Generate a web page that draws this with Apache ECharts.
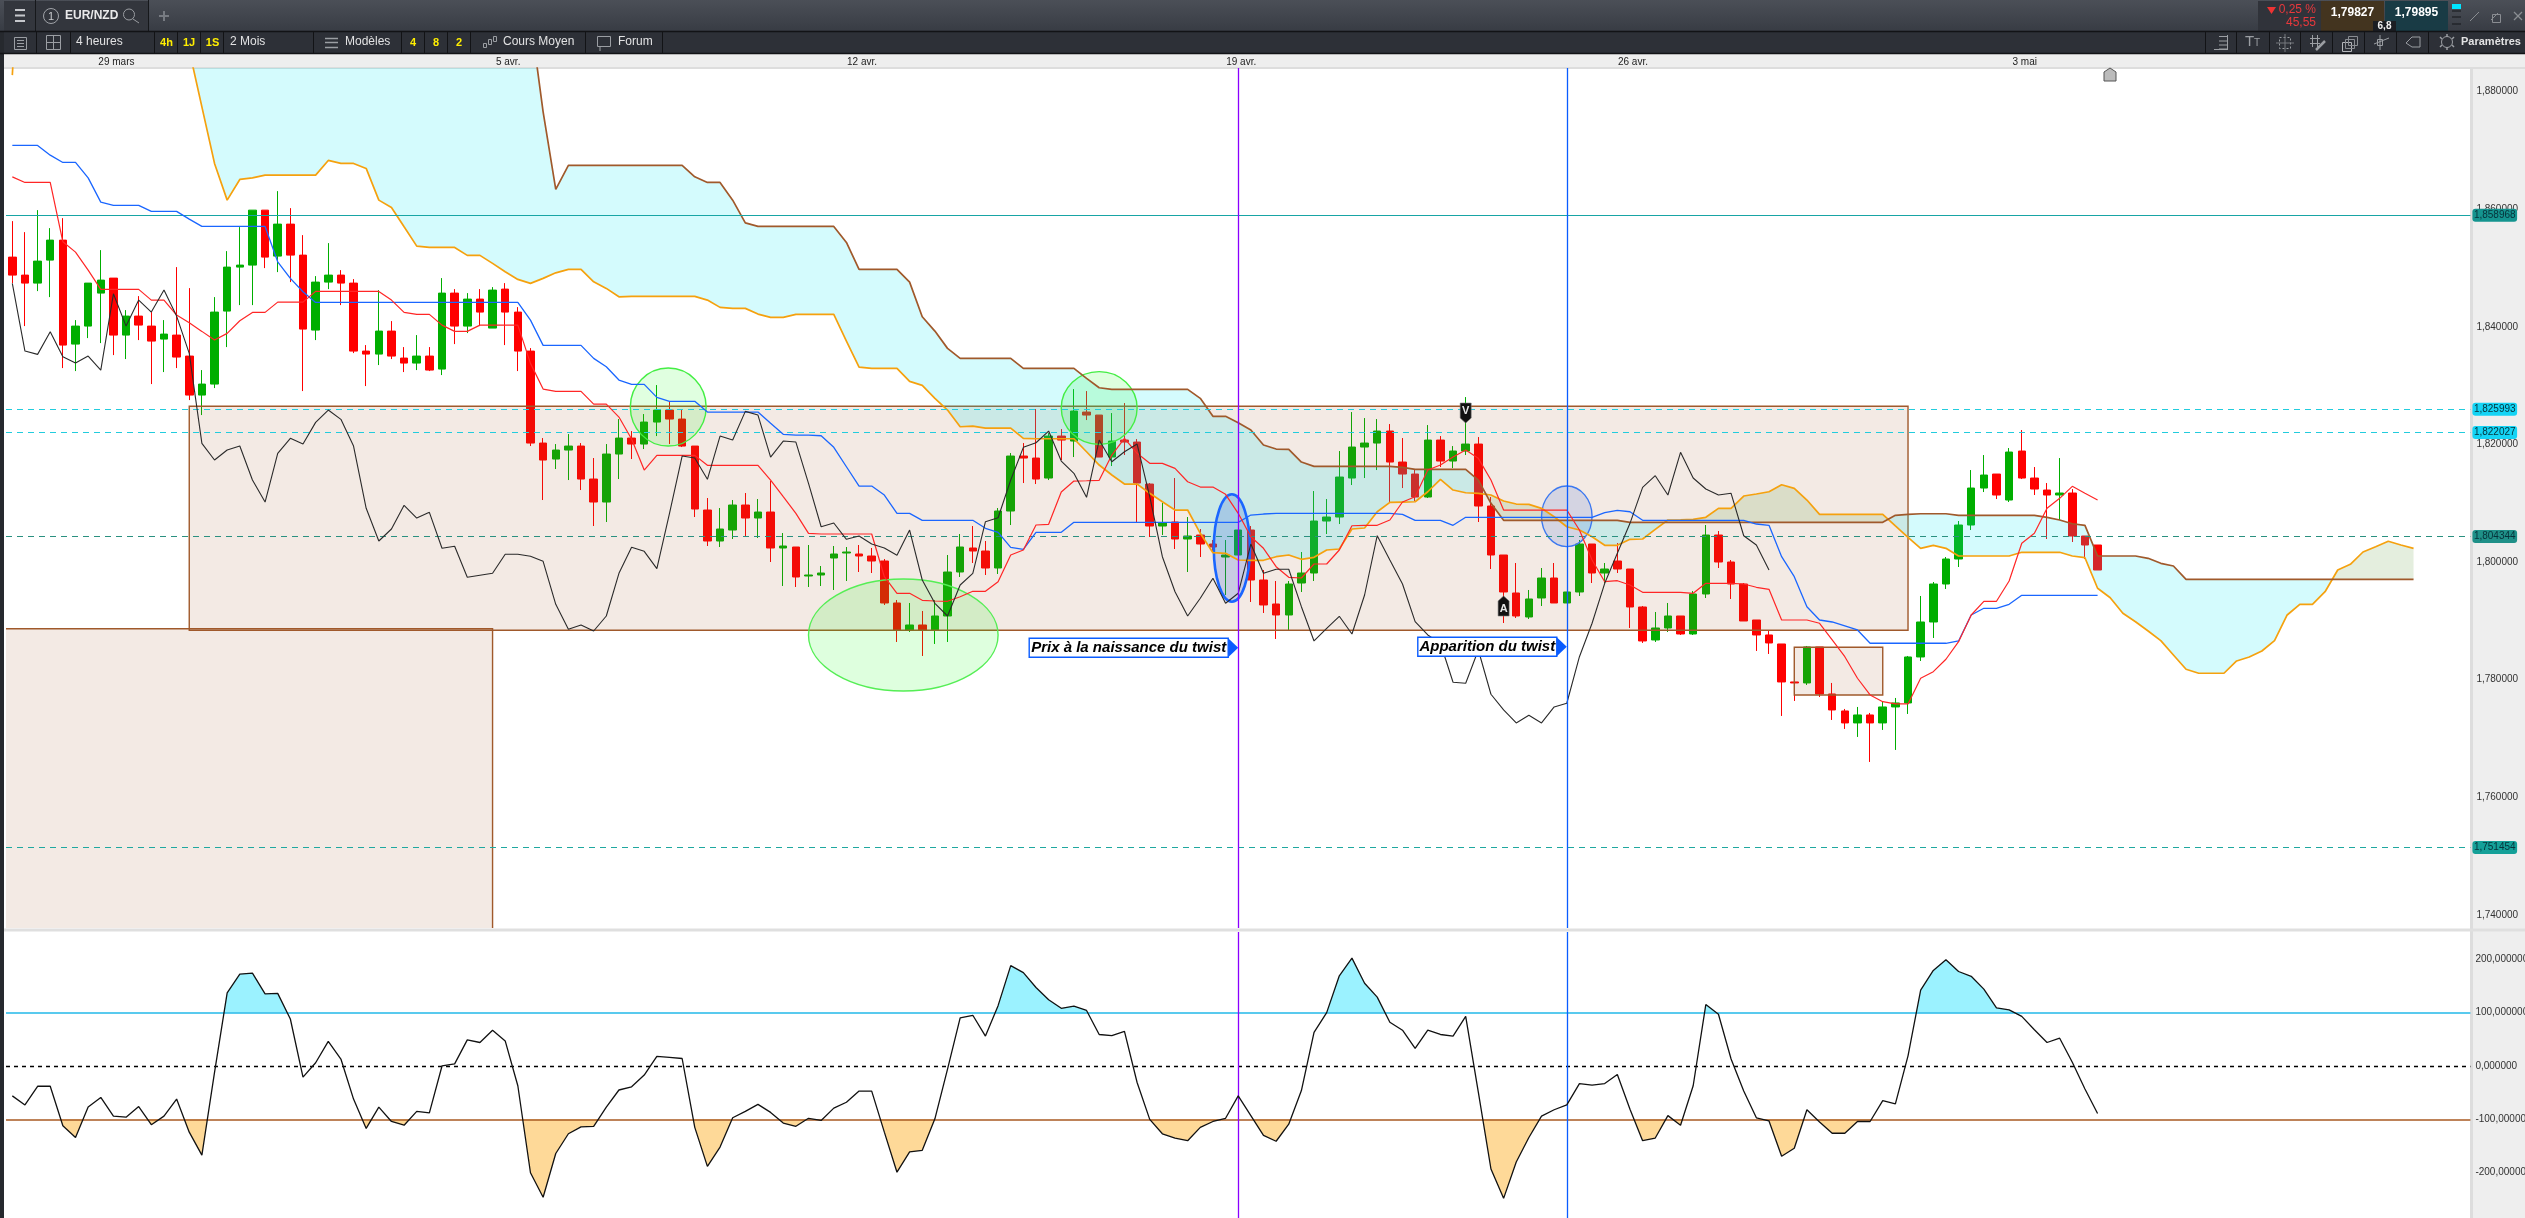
<!DOCTYPE html>
<html><head><meta charset="utf-8">
<style>html,body{margin:0;padding:0;background:#fff}#c{width:2525px;height:1218px}</style>
<script src="https://cdn.jsdelivr.net/npm/echarts@6/dist/echarts.min.js"></script>
</head><body><div id="c"></div>
<script>
const barCount = 195;
const dateTickIndex = [8, 39, 67, 97, 128, 159];
const dateTickLabel = ['29 mars', '5 avr.', '12 avr.', '19 avr.', '26 avr.', '3 mai'];
const priceTicks = [1.74, 1.76, 1.78, 1.80, 1.82, 1.84, 1.86, 1.88];
const cciTicks = [-200, -100, 0, 100, 200];
const priceLevels = [1.858968, 1.825993, 1.822027, 1.804344, 1.751454];
const cciLevels = [100, 0, -100];
const twistIndex = [97, 123];

// [open, close, low, high]
const candles = [
[1.85185,1.84879,1.84743,1.85797],[1.84879,1.84743,1.84012,1.8561],[1.84743,1.85117,1.84607,1.85984],[1.85134,1.85474,1.84505,1.85678],[1.85474,1.83689,1.83298,1.85848],
[1.83706,1.84012,1.83247,1.84114],[1.84012,1.84743,1.83808,1.84743],[1.84573,1.84794,1.83723,1.85304],[1.84828,1.83859,1.83519,1.84828],[1.83859,1.84182,1.83451,1.84284],
[1.84182,1.84029,1.83774,1.84522],[1.84012,1.83757,1.83026,1.8425],[1.83791,1.83876,1.8323,1.84114],[1.83859,1.83485,1.83298,1.85015],[1.83502,1.82839,1.82754,1.84658],
[1.82839,1.83026,1.82499,1.83264],[1.83026,1.8425,1.82958,1.84505],[1.84267,1.85015,1.83655,1.85287],[1.85015,1.85049,1.84369,1.85695],[1.85049,1.85984,1.84369,1.85984],
[1.85984,1.85185,1.84998,1.85984],[1.85202,1.85746,1.8493,1.86307],[1.85746,1.85219,1.8476,1.86018],[1.85219,1.83961,1.82907,1.85559],[1.83944,1.8476,1.83774,1.84862],
[1.8476,1.84879,1.84641,1.85423],[1.84879,1.84743,1.84369,1.84964],[1.84743,1.83587,1.83553,1.84811],[1.83587,1.83536,1.82992,1.83689],[1.83536,1.83927,1.83349,1.84624],
[1.83927,1.83502,1.83451,1.84097],[1.83468,1.83383,1.8323,1.83655],[1.83383,1.83502,1.83264,1.83859],[1.83502,1.83264,1.83247,1.83655],[1.83281,1.84573,1.83179,1.84828],
[1.84573,1.84012,1.83706,1.84641],[1.84012,1.84471,1.83893,1.84573],[1.84471,1.8425,1.84012,1.84641],[1.83978,1.84624,1.83978,1.84675],[1.84641,1.8425,1.83689,1.84743],
[1.8425,1.83587,1.83247,1.84335],[1.83587,1.82023,1.81972,1.83638],[1.82023,1.81734,1.81054,1.82108],[1.81751,1.81904,1.81581,1.82006],[1.81904,1.81972,1.81394,1.82176],
[1.81972,1.81411,1.81224,1.82023],[1.81411,1.8102,1.80612,1.81768],[1.8102,1.81836,1.8068,1.82006],[1.81836,1.82108,1.81411,1.82431],[1.82108,1.82006,1.81751,1.82227],
[1.82006,1.8238,1.81921,1.82516],[1.8238,1.82584,1.82142,1.83009],[1.82584,1.82431,1.82006,1.8272],[1.82431,1.81972,1.81955,1.82601],[1.81972,1.80901,1.80765,1.81972],
[1.80884,1.80357,1.80272,1.81088],[1.80357,1.80561,1.80255,1.80918],[1.80544,1.80969,1.80391,1.81054],[1.80969,1.80748,1.80442,1.81173],[1.80748,1.8085,1.80408,1.81071],
[1.8085,1.80238,1.8,1.81377],[1.80238,1.80272,1.79592,1.80493],[1.80255,1.79745,1.79575,1.80255],[1.79762,1.79779,1.79575,1.80289],[1.79779,1.79813,1.79592,1.79932],
[1.80068,1.80136,1.79524,1.80272],[1.80153,1.8017,1.79677,1.80255],[1.80136,1.80102,1.7983,1.80289],[1.80102,1.80017,1.79813,1.80238],[1.80017,1.79303,1.79269,1.80051],
[1.79303,1.78844,1.7864,1.79354],[1.78844,1.78929,1.7881,1.79303],[1.78929,1.78844,1.78402,1.79167],[1.78844,1.79082,1.78606,1.79354],[1.79082,1.7983,1.7864,1.80119],
[1.7983,1.80255,1.79745,1.80476],[1.80238,1.80187,1.79983,1.80612],[1.80187,1.79898,1.79779,1.80357],[1.79898,1.80867,1.79796,1.80918],[1.80867,1.81802,1.80629,1.81853],
[1.81802,1.81768,1.81343,1.82023],[1.81768,1.81411,1.81326,1.82601],[1.81428,1.82142,1.81394,1.82193],[1.82142,1.82074,1.81734,1.82261],[1.82057,1.82567,1.81785,1.82941],
[1.8255,1.82499,1.82414,1.82907],[1.82499,1.81785,1.81785,1.82499],[1.81785,1.82057,1.81632,1.82533],[1.82074,1.8204,1.81819,1.82703],[1.8204,1.81343,1.8068,1.82091],
[1.81326,1.80612,1.80425,1.81343],[1.80612,1.80663,1.80459,1.81003],[1.8068,1.80391,1.80221,1.81428],[1.80391,1.80442,1.7983,1.80765],[1.80459,1.80306,1.80085,1.80561],
[1.80306,1.80255,1.80153,1.80374],[1.80085,1.80119,1.79439,1.80374],[1.80119,1.80544,1.80119,1.80544],[1.80544,1.79694,1.7932,1.80612],[1.79694,1.79269,1.79133,1.79864],
[1.79286,1.79099,1.78691,1.79677],[1.79099,1.79626,1.78844,1.79677],[1.79643,1.79813,1.7949,1.8017],[1.79813,1.80697,1.79677,1.81207],[1.80697,1.80765,1.80476,1.81071],
[1.80765,1.81445,1.80646,1.81887],[1.81428,1.81955,1.81309,1.8255],[1.81955,1.82023,1.81428,1.82448],[1.82023,1.82227,1.81564,1.82431],[1.82227,1.817,1.81003,1.82346],
[1.817,1.81496,1.81258,1.82108],[1.81496,1.81105,1.81037,1.81581],[1.81105,1.82074,1.81088,1.82329],[1.82074,1.81717,1.81615,1.82142],[1.81717,1.81887,1.81598,1.81972],
[1.81887,1.82006,1.81819,1.82805],[1.82006,1.80952,1.8068,1.82125],[1.80952,1.80119,1.79881,1.81105],[1.80119,1.7949,1.78963,1.80119],[1.79473,1.79082,1.79048,1.79983],
[1.79065,1.79371,1.79031,1.79524],[1.79388,1.79728,1.79252,1.79898],[1.79728,1.79303,1.79303,1.79983],[1.79303,1.7949,1.79303,1.7949],[1.7949,1.80306,1.79422,1.80374],
[1.80306,1.79813,1.79643,1.80306],[1.79813,1.79881,1.79643,1.79983],[1.80017,1.79881,1.79813,1.80323],[1.79881,1.79235,1.78878,1.79881],[1.79235,1.78657,1.78623,1.79252],
[1.78674,1.78878,1.7864,1.7915],[1.78878,1.79082,1.7881,1.79303],[1.79082,1.78776,1.78759,1.79082],[1.78776,1.79456,1.78759,1.79507],[1.79456,1.80459,1.79388,1.80629],
[1.80459,1.8,1.79898,1.80527],[1.8,1.79626,1.79371,1.80034],[1.79626,1.78997,1.78997,1.79643],[1.79014,1.78759,1.78487,1.79014],[1.78759,1.78623,1.78436,1.78827],
[1.78606,1.7796,1.77382,1.78606],[1.7796,1.77943,1.77637,1.7796],[1.77943,1.78555,1.77909,1.78572],[1.78555,1.77756,1.77705,1.78555],[1.77756,1.77484,1.77314,1.77943],
[1.77467,1.77263,1.77161,1.77501],[1.77263,1.77399,1.77025,1.77535],[1.77399,1.77263,1.766,1.77433],[1.77263,1.77535,1.77144,1.7762],[1.77535,1.77603,1.76804,1.77688],
[1.77603,1.78385,1.77416,1.78402],[1.78385,1.7898,1.78317,1.79422],[1.7898,1.79626,1.78708,1.7966],[1.79626,1.80051,1.79541,1.80085],[1.80051,1.80629,1.79915,1.80697],
[1.80629,1.81258,1.80544,1.81564],[1.81258,1.81479,1.8119,1.81819],[1.81496,1.81139,1.81071,1.81496],[1.81054,1.8187,1.8102,1.81938],[1.81887,1.81428,1.81411,1.82244],
[1.81428,1.81241,1.81139,1.81615],[1.81224,1.81139,1.80391,1.81343],[1.81139,1.81173,1.80714,1.81768],[1.81173,1.80442,1.8034,1.81241],[1.80442,1.80289,1.80051,1.80442],
[1.80289,1.79864,1.79864,1.80289]];

const tenkan = [
1.8655,1.86455,1.86455,1.86455,1.85445,1.8527,1.84964,1.84636,1.84636,1.84636,
1.84636,1.84454,1.84454,1.84199,1.84068,1.83922,1.83774,1.83888,1.84102,1.84245,
1.84245,1.8442,1.8442,1.8442,1.84602,1.84602,1.84602,1.84602,1.84602,1.84602,
1.84454,1.84245,1.84211,1.84211,1.84029,1.83922,1.83922,1.84029,1.84029,1.84029,
1.84029,1.83378,1.82941,1.82902,1.82902,1.82902,1.82686,1.82686,1.82465,1.82091,
1.81564,1.81813,1.81813,1.81813,1.81813,1.81644,1.81644,1.81644,1.81644,1.81644,
1.81394,1.8111,1.80828,1.80488,1.80476,1.80476,1.80476,1.80476,1.80476,1.7975,
1.79468,1.79468,1.79349,1.79337,1.79332,1.7941,1.79502,1.79502,1.79665,1.80119,
1.80204,1.80629,1.80641,1.8119,1.81377,1.81382,1.81389,1.81819,1.82103,1.81848,
1.81678,1.81678,1.81593,1.81365,1.81275,1.81275,1.81151,1.80828,1.8043,1.80233,
1.7992,1.7974,1.79728,1.79966,1.79966,1.80204,1.80617,1.80624,1.80624,1.80714,
1.8102,1.8111,1.81564,1.81649,1.81785,1.81904,1.81763,1.81394,1.80884,1.80884,
1.80884,1.80884,1.80884,1.80884,1.80544,1.80034,1.79665,1.79682,1.79609,1.79485,
1.79485,1.79485,1.79485,1.79468,1.79638,1.79638,1.79638,1.79626,1.7957,1.79536,
1.79014,1.79014,1.79014,1.78958,1.78674,1.7839,1.78023,1.77739,1.77625,1.77586,
1.77586,1.78023,1.78135,1.78346,1.78645,1.79099,1.79332,1.79332,1.79677,1.80318,
1.80488,1.80913,1.81083,1.81287,1.81168,1.81054];

const kijun = [
1.87084,1.87084,1.87084,1.86919,1.86795,1.86795,1.86533,1.8612,1.86064,1.86064,
1.86064,1.85962,1.85962,1.85962,1.85831,1.85707,1.85707,1.85707,1.85707,1.85707,
1.85707,1.85105,1.84823,1.84595,1.84415,1.84415,1.84415,1.84415,1.84415,1.84415,
1.84415,1.84415,1.84415,1.84415,1.84415,1.84415,1.84415,1.84415,1.84415,1.84415,
1.84415,1.84114,1.83684,1.83684,1.83684,1.83684,1.83463,1.8332,1.83094,1.83021,
1.83021,1.828,1.82732,1.82732,1.82732,1.8255,1.8255,1.8255,1.8255,1.8255,
1.82358,1.82171,1.82159,1.82159,1.82147,1.8195,1.8162,1.81292,1.81292,1.81139,
1.80828,1.80828,1.80709,1.80709,1.80709,1.80709,1.80709,1.80573,1.80505,1.8025,
1.80216,1.80505,1.80505,1.80505,1.80675,1.80675,1.80675,1.80675,1.80675,1.80675,
1.80675,1.80675,1.80675,1.80675,1.80675,1.80675,1.80675,1.80675,1.80799,1.80816,
1.80828,1.80828,1.80828,1.80828,1.80828,1.80828,1.80828,1.80828,1.80828,1.80828,
1.80811,1.80709,1.80709,1.80709,1.80624,1.8076,1.8076,1.8076,1.8076,1.8076,
1.8076,1.8076,1.8076,1.8076,1.8076,1.8076,1.80838,1.80879,1.80855,1.80709,
1.80709,1.80709,1.80709,1.80709,1.80709,1.80709,1.80709,1.80709,1.80646,1.80624,
1.8009,1.7975,1.7924,1.79014,1.7898,1.78912,1.78844,1.78618,1.78618,1.78618,
1.78618,1.78618,1.78618,1.78618,1.78657,1.79099,1.79213,1.79213,1.79281,1.79434,
1.79434,1.79434,1.79434,1.79434,1.79434,1.79434];

const chikou = [
1.84738,1.83587,1.83531,1.83915,1.8349,1.83383,1.83502,1.83264,1.84561,1.84012,
1.84454,1.8425,1.84624,1.84182,1.83548,1.82018,1.81734,1.81904,1.81972,1.81394,
1.8102,1.81848,1.82103,1.82006,1.82375,1.82584,1.82426,1.81972,1.80913,1.80357,
1.80561,1.80964,1.80748,1.80845,1.80233,1.80267,1.7974,1.79774,1.79808,1.80131,
1.80131,1.80097,1.80012,1.79281,1.78856,1.78929,1.78827,1.79082,1.79808,1.8025,
1.80182,1.79887,1.80828,1.81802,1.81768,1.81406,1.82142,1.82074,1.82562,1.82499,
1.81785,1.82057,1.8204,1.81338,1.806,1.80663,1.80386,1.80442,1.80306,1.80238,
1.80114,1.80544,1.79694,1.79298,1.79082,1.79609,1.79808,1.80685,1.80753,1.81394,
1.8195,1.82028,1.82227,1.81717,1.81508,1.811,1.82074,1.81705,1.81875,1.82006,
1.8111,1.8009,1.79495,1.79082,1.79383,1.79723,1.79298,1.79468,1.80306,1.79808,
1.79876,1.79876,1.7924,1.78657,1.78873,1.79077,1.78776,1.79439,1.80447,1.80034,
1.79626,1.78985,1.78759,1.78618,1.77955,1.77938,1.78504,1.77751,1.77484,1.77263,
1.77394,1.77263,1.77535,1.77598,1.7839,1.78958,1.79638,1.80148,1.80658,1.8127,
1.81468,1.81139,1.81865,1.81428,1.81241,1.81139,1.81168,1.80447,1.80289,1.79864];

const senkouA = [
1.8828,1.92,1.92,1.92,1.92,1.92,1.92,1.92,1.92,1.92,
1.92,1.92,1.92,1.90,1.88704,1.8774,1.86778,1.86154,1.86506,1.86533,
1.86579,1.86579,1.86579,1.86579,1.86579,1.86829,1.86778,1.86778,1.86693,1.86154,
1.8603,1.857,1.85372,1.8535,1.8535,1.8535,1.85214,1.85214,1.85078,1.84935,
1.84806,1.84738,1.84823,1.84918,1.84976,1.84976,1.84765,1.84653,1.8451,1.84517,
1.84517,1.84517,1.84517,1.84517,1.84517,1.84454,1.8433,1.84313,1.84313,1.84216,
1.8416,1.8416,1.84211,1.84211,1.84211,1.84211,1.83757,1.83315,1.83293,1.83293,
1.83293,1.83072,1.83004,1.82783,1.82584,1.823,1.82312,1.82278,1.82278,1.82278,
1.82103,1.82096,1.82096,1.82096,1.82096,1.81875,1.81649,1.81479,1.81326,1.81326,
1.81168,1.81025,1.80884,1.80884,1.80488,1.80158,1.80148,1.80034,1.80029,1.80029,
1.8009,1.80119,1.80046,1.8008,1.80204,1.80221,1.80561,1.80578,1.80855,1.81015,
1.8102,1.81025,1.81195,1.81406,1.81224,1.81178,1.81168,1.81139,1.81037,1.80986,
1.80981,1.80913,1.8077,1.806,1.80544,1.8043,1.80284,1.80284,1.80386,1.80391,
1.80556,1.80714,1.80719,1.80726,1.8076,1.80913,1.80913,1.81122,1.81156,1.81195,
1.81314,1.81253,1.81054,1.80811,1.80811,1.80811,1.80811,1.80811,1.80811,1.80615,
1.8042,1.80233,1.80284,1.80233,1.80102,1.80102,1.80102,1.80102,1.80102,1.80165,
1.80165,1.80165,1.80165,1.80102,1.80073,1.79553,1.79393,1.79128,1.78985,1.78827,
1.78662,1.78419,1.78176,1.78108,1.78108,1.78108,1.78317,1.78385,1.78487,1.78662,
1.79099,1.79281,1.79281,1.79495,1.79864,1.79961,1.8017,1.8026,1.80352,1.80289,
1.80233];

const senkouB = [
1.93,1.93,1.93,1.93,1.93,1.93,1.93,1.93,1.93,1.93,
1.93,1.93,1.93,1.93,1.93,1.93,1.93,1.93,1.93,1.93,
1.93,1.93,1.93,1.93,1.93,1.93,1.93,1.93,1.93,1.93,
1.93,1.93,1.93,1.93,1.93,1.93,1.93,1.93,1.93,1.93,
1.93,1.89265,1.87655,1.86336,1.86744,1.86744,1.86744,1.86744,1.86744,1.86744,
1.86744,1.86744,1.86744,1.86744,1.8655,1.86455,1.86455,1.86154,1.85768,1.85707,
1.85707,1.85707,1.85707,1.85707,1.85707,1.85707,1.85435,1.84976,1.84976,1.84976,
1.84976,1.8476,1.8417,1.83927,1.83633,1.83463,1.83463,1.83463,1.83463,1.83463,
1.83293,1.83293,1.83293,1.83293,1.83293,1.83123,1.82963,1.82936,1.82936,1.82936,
1.82936,1.82936,1.82936,1.82936,1.82783,1.82477,1.82477,1.82368,1.82244,1.81989,
1.81921,1.81916,1.817,1.81627,1.81627,1.81627,1.81627,1.81627,1.81627,1.81627,
1.8161,1.81576,1.81576,1.81576,1.81576,1.81576,1.81394,1.80998,1.80709,1.80709,
1.80709,1.80709,1.80709,1.80709,1.80709,1.80709,1.80709,1.80709,1.80675,1.80675,
1.80675,1.80675,1.80675,1.80675,1.80675,1.80675,1.80675,1.80675,1.80675,1.80675,
1.80675,1.80675,1.80675,1.80675,1.80675,1.80675,1.80675,1.80675,1.80675,1.80794,
1.80811,1.80821,1.80821,1.80821,1.80794,1.80794,1.80794,1.80794,1.80794,1.80794,
1.80794,1.8076,1.80714,1.80651,1.80624,1.80102,1.80102,1.80102,1.80102,1.80063,
1.79978,1.79932,1.79706,1.79706,1.79706,1.79706,1.79706,1.79706,1.79706,1.79706,
1.79706,1.79706,1.79706,1.79706,1.79706,1.79706,1.79706,1.79706,1.79706,1.79706,
1.79706];

const cci = [
-56,-73,-38,-38,-112,-134,-77,-59,-94,-96,
-76,-110,-94,-62,-124,-167,-12,137,172,174,
135,136,88,-21,6,46,13,-62,-117,-77,
-104,-111,-85,-88,0,4,49,44,67,47,
-37,-200,-246,-164,-127,-114,-113,-77,-45,-39,
-17,18,16,14,-115,-188,-152,-97,-85,-72,
-87,-107,-113,-98,-102,-79,-68,-47,-47,-124,
-199,-161,-158,-99,-6,90,95,56,113,188,
175,147,124,108,112,104,59,57,65,-31,
-100,-127,-135,-140,-115,-104,-98,-56,-93,-130,
-141,-109,-46,63,100,169,202,155,129,82,
67,33,67,59,56,93,-49,-193,-248,-180,
-134,-94,-82,-73,-33,-36,-33,-16,-81,-140,
-135,-93,-111,-37,115,97,13,-47,-97,-103,
-169,-154,-82,-105,-126,-126,-104,-104,-65,-71,
19,142,179,199,177,168,144,109,105,93,
68,44,52,7,-43,-89];

// Drawn zones: start bar (null = left edge), end bar, top price, bottom price (null = lower edge)
const zoneStart = [14, null, 141];
const zoneEnd = [150, 38, 148];
const zoneTop = [1.82648, 1.78866, 1.7855];
const zoneBottom = [1.78839, null, 1.77739];

// Drawn ellipses: centre bar, centre price, half width in bars, half height in price
const ringBar = [51.9, 70.5, 86, 96.5, 123];
const ringPrice = [1.82635, 1.78759, 1.82618, 1.80238, 1.80777];
const ringHalfBars = [3.0, 7.5, 3.0, 1.43, 2.0];
const ringHalfPrice = [0.00663, 0.00952, 0.0062, 0.00913, 0.00515];

const noteText = ['Prix à la naissance du twist', 'Apparition du twist'];
const noteBar = [97, 123];
const notePrice = [1.78541, 1.78558];
const notePixelWidth = [199, 139];

const signalText = ['V', 'A'];
const signalBar = [115, 118];
const signalPrice = [1.82703, 1.79082];

const UI = '"Liberation Sans", Arial, sans-serif';
const categories = [];
for (let i = 0; i < barCount; i++) categories.push(String(i));

/* ---------- page furniture drawn as graphic elements ---------- */
const gfx = [];
const R = (x, y, w, h, fill, extra) => gfx.push(Object.assign({type:'rect', silent:true, shape:{x,y,width:w,height:h}, style:{fill}}, extra||{}));
const B = (x, y, w, h, stroke) => gfx.push({type:'rect', silent:true, shape:{x,y,width:w,height:h}, style:{fill:'none', stroke, lineWidth:1}});
const L = (x1, y1, x2, y2, stroke, w) => gfx.push({type:'line', silent:true, shape:{x1,y1,x2,y2}, style:{stroke, lineWidth:w||1}});
const C = (cx, cy, r, stroke) => gfx.push({type:'circle', silent:true, shape:{cx,cy,r}, style:{fill:'none', stroke, lineWidth:1}});
const P = (points, fill, stroke) => gfx.push({type:'polygon', silent:true, shape:{points}, style:{fill, stroke:stroke||null, lineWidth:1}});
const T = (x, y, text, fill, font, align) => gfx.push({type:'text', silent:true, style:{x, y, text, fill, font, align:align||'left', verticalAlign:'middle'}});

// axis gutters and separators
R(2470, 54, 55, 1164, '#eeeeee');
R(2470, 68, 3, 1150, '#dddddd');
R(0, 928.5, 2525, 3, '#dfdfdf');
R(0, 54, 2525, 13, '#eeeeee');
R(0, 67, 2525, 2, '#dddddd');
R(0, 0, 4, 1218, '#26292e');

// first toolbar row
R(0, 0, 2525, 31, {type:'linear',x:0,y:0,x2:0,y2:1,colorStops:[{offset:0,color:'#4b4f57'},{offset:1,color:'#383c44'}]});
R(4, 1, 31, 30, '#33363d');
R(36, 1, 112, 30, '#33363d');
[35.5, 148.5].forEach(x => L(x, 0, x, 31, '#16181b'));
[10, 15.5, 21].forEach(y => L(15, y, 25, y, '#c6c8cc', 2));
C(51, 16, 7.5, '#a0a3a8');
T(51, 16.5, '1', '#c9cbce', '11px ' + UI, 'center');
T(65, 16, 'EUR/NZD', '#e9e9ea', 'bold 12px ' + UI);
C(129, 14.5, 5.5, '#9a9da2');
L(133, 19, 139, 23, '#9a9da2');
L(159, 16, 169, 16, '#777b82', 2);
L(164, 11, 164, 21, '#777b82', 2);
R(2258, 1, 63, 30, '#30333a');
P([[2267,7],[2276,7],[2271.5,14]], '#ee3333');
T(2316, 10, '0,25 %', '#e8383c', '12px ' + UI, 'right');
T(2316, 23, '45,55', '#e8383c', '12px ' + UI, 'right');
R(2321, 1, 63, 30, '#43341f');
R(2385, 1, 63, 30, '#193b45');
T(2352.5, 13, '1,79827', '#ffffff', 'bold 12px ' + UI, 'center');
T(2416.5, 13, '1,79895', '#ffffff', 'bold 12px ' + UI, 'center');
R(2373, 21, 23, 11, '#1b1e23');
T(2384.5, 26.5, '6,8', '#f0f0f0', 'bold 10px ' + UI, 'center');
R(2452, 4, 9, 5, '#00e5ff');
[11, 17, 24].forEach(y => L(2452, y, 2461, y, '#15171a'));
L(2470, 21, 2479, 12, '#8a8d92');
L(2491, 20, 2498, 13, '#8a8d92');
B(2492.5, 14.5, 8, 8, '#8a8d92');
L(2514, 12, 2522, 20, '#8a8d92', 1.2);
L(2522, 12, 2514, 20, '#8a8d92', 1.2);

// second toolbar row
R(4, 32, 2521, 21, '#2d3037');
L(0, 31.5, 2525, 31.5, '#121316', 1.5);
L(0, 53.5, 2525, 53.5, '#121316', 1.5);
[36, 70, 154, 177, 200, 223, 313, 401, 424, 447, 470, 585, 662, 2205, 2236, 2269, 2300, 2332, 2364, 2396, 2428].forEach(x => L(x + 0.5, 32, x + 0.5, 53, '#121316'));
B(14.5, 37.5, 12, 12, '#9b9ea3');
[40.5, 43.5, 46.5].forEach(y => L(17, y, 24, y, '#9b9ea3'));
B(46.5, 35.5, 14, 14, '#9b9ea3');
L(53.5, 35, 53.5, 50, '#9b9ea3');
L(46, 42.5, 61, 42.5, '#9b9ea3');
T(76, 42, '4 heures', '#e2e2e3', '12px ' + UI);
T(166.5, 43, '4h', '#ffee00', 'bold 11px ' + UI, 'center');
T(189, 43, '1J', '#ffee00', 'bold 11px ' + UI, 'center');
T(212.5, 43, '1S', '#ffee00', 'bold 11px ' + UI, 'center');
T(230, 42, '2 Mois', '#e2e2e3', '12px ' + UI);
[38.5, 42.5, 47.5].forEach(y => L(325, y, 338, y, '#9b9ea3', 1.5));
T(345, 42, 'Modèles', '#e2e2e3', '12px ' + UI);
T(413, 43, '4', '#ffee00', 'bold 11px ' + UI, 'center');
T(436, 43, '8', '#ffee00', 'bold 11px ' + UI, 'center');
T(459, 43, '2', '#ffee00', 'bold 11px ' + UI, 'center');
B(483.5, 43.5, 3, 4, '#9b9ea3');
B(488.5, 39.5, 3, 5, '#9b9ea3');
B(493.5, 36.5, 3, 5, '#9b9ea3');
T(503, 42, 'Cours Moyen', '#e2e2e3', '12px ' + UI);
B(597.5, 36.5, 13, 10, '#9b9ea3');
L(600, 47, 600, 51, '#9b9ea3');
T(618, 42, 'Forum', '#e2e2e3', '12px ' + UI);
[36.5, 41, 45, 49].forEach(y => L(2219, y, 2227, y, '#9b9ea3'));
L(2227.5, 35, 2227.5, 50, '#9b9ea3');
L(2214, 49.5, 2228, 49.5, '#9b9ea3');
T(2245, 42, 'T', '#9b9ea3', '15px ' + UI);
T(2254, 43, 'T', '#9b9ea3', '10px ' + UI);
gfx.push({type:'rect', silent:true, shape:{x:2279.5,y:37.5,width:11,height:11}, style:{fill:'none', stroke:'#9b9ea3', lineWidth:1, lineDash:[2,2]}});
L(2285, 34, 2285, 52, '#77797e');
L(2276, 43, 2294, 43, '#77797e');
[2312.5, 2317.5].forEach(x => L(x, 35, x, 47, '#9b9ea3'));
[38.5, 43.5].forEach(y => L(2310, y, 2320, y, '#9b9ea3'));
L(2316, 50, 2325, 41, '#9b9ea3', 2.5);
B(2342.5, 42.5, 9, 9, '#b5b7bb');
B(2345.5, 39.5, 9, 9, '#8a8d92');
B(2348.5, 36.5, 9, 9, '#8a8d92');
B(2377.5, 39.5, 5, 6, '#9b9ea3');
L(2380, 35, 2380, 50, '#9b9ea3');
L(2374, 44, 2389, 38, '#9b9ea3');
gfx.push({type:'polygon', silent:true, shape:{points:[[2406,43],[2412,37],[2420,37],[2420,47],[2412,47]]}, style:{fill:'none', stroke:'#9b9ea3', lineWidth:1}});
C(2447, 42, 5.5, '#9b9ea3');
[[2447,34,2447,37],[2447,47,2447,50],[2440,37,2442,39],[2452,45,2454,47],[2452,39,2454,37],[2440,47,2442,45]].forEach(s => L(s[0],s[1],s[2],s[3],'#9b9ea3',1.5));
T(2461, 42, 'Paramètres', '#e2e2e3', 'bold 11px ' + UI);
// scroll marker on top of the chart
P([[2104,81],[2104,72],[2110,68],[2116,72],[2116,81]], '#bbbbbb', '#555555');

/* ---------- custom drawing helpers (all positions come through the axes) ---------- */
const barX = (api, i) => api.coord([0, 1.8])[0] + i * api.size([1, 0])[0];

function bands(api, n, a, b, posColor, negColor) {
  const out = [];
  const flush = (upper, lower, color) => {
    if (color && upper.length > 1) out.push({type:'polygon', shape:{points: upper.concat(lower.slice().reverse())}, style:{fill:color}});
  };
  let upper = [], lower = [], sign = 0;
  for (let i = 0; i < n; i++) {
    const d = a[i] - b(i), s = d > 0 ? 1 : d < 0 ? -1 : sign;
    const pa = [barX(api, i), api.coord([0, a[i]])[1]], pb = [pa[0], api.coord([0, b(i)])[1]];
    if (sign !== 0 && s !== sign) {
      const d0 = a[i - 1] - b(i - 1), t = d0 / (d0 - d);
      const last = upper[upper.length - 1];
      const cross = [last[0] + (pa[0] - last[0]) * t, last[1] + (pa[1] - last[1]) * t];
      upper.push(cross); lower.push(cross);
      flush(upper, lower, sign > 0 ? posColor : negColor);
      upper = [cross]; lower = [cross];
    }
    upper.push(pa); lower.push(pb);
    sign = s;
  }
  flush(upper, lower, sign > 0 ? posColor : negColor);
  return out;
}

const oneShot = (name, renderItem, xi, z, clip) => ({
  type:'custom', name, xAxisIndex:xi, yAxisIndex:xi, z, clip, silent:true,
  data:[[0, xi ? 0 : 1.8]], encode:{x:0, y:1}, renderItem
});

const seriesZones = oneShot('zones', (p, api) => {
  const cs = p.coordSys, ch = [];
  zoneStart.forEach((s, k) => {
    const x0 = s === null ? cs.x - 4 : barX(api, s);
    const x1 = barX(api, zoneEnd[k]);
    const y0 = api.coord([0, zoneTop[k]])[1];
    const y1 = zoneBottom[k] === null ? cs.y + cs.height + 6 : api.coord([0, zoneBottom[k]])[1];
    ch.push({type:'rect', shape:{x:x0, y:y0, width:x1 - x0, height:y1 - y0},
      style:{fill:'rgba(160,89,43,0.13)', stroke:'#a0592b', lineWidth:1.4}});
  });
  return {type:'group', children:ch};
}, 0, 3, true);

const seriesCloud = oneShot('kumo', (p, api) => ({
  type:'group',
  children: bands(api, senkouA.length, senkouB, i => senkouA[i], 'rgba(0,230,245,0.17)', 'rgba(120,170,90,0.2)')
}), 0, 3, true);

const ringStyle = [
  ['rgba(0,255,0,0.12)', '#44ee44', 1.4], ['rgba(0,255,0,0.13)', '#55ee55', 1.4], ['rgba(0,255,0,0.13)', '#44ee44', 1.4],
  ['rgba(30,80,220,0.2)', '#1a66ff', 2.6], ['rgba(30,80,220,0.14)', '#3b78f0', 1.4]
];
const seriesRings = oneShot('rings', (p, api) => ({
  type:'group',
  children: ringBar.map((b, k) => ({
    type:'ellipse',
    shape:{cx:barX(api, b), cy:api.coord([0, ringPrice[k]])[1],
      rx:ringHalfBars[k] * api.size([1, 0])[0],
      ry:Math.abs(api.coord([0, ringPrice[k] + ringHalfPrice[k]])[1] - api.coord([0, ringPrice[k]])[1])},
    style:{fill:ringStyle[k][0], stroke:ringStyle[k][1], lineWidth:ringStyle[k][2]}
  }))
}), 0, 4, true);

const seriesNotes = oneShot('notes', (p, api) => {
  const ch = [];
  noteText.forEach((t, k) => {
    const tip = barX(api, noteBar[k]), cy = api.coord([0, notePrice[k]])[1], w = notePixelWidth[k];
    ch.push({type:'rect', shape:{x:tip - 10 - w, y:cy - 9.5, width:w, height:19}, style:{fill:'#ffffff', stroke:'#0a5cff', lineWidth:1.4}});
    ch.push({type:'polygon', shape:{points:[[tip - 10, cy - 9.5], [tip, cy], [tip - 10, cy + 9.5]]}, style:{fill:'#0a5cff'}});
    ch.push({type:'text', style:{x:tip - 10 - w / 2, y:cy, text:t, fill:'#000', font:'italic bold 15px ' + UI, align:'center', verticalAlign:'middle'}});
  });
  signalText.forEach((t, k) => {
    const x = barX(api, signalBar[k]), y = api.coord([0, signalPrice[k]])[1];
    const pts = t === 'V'
      ? [[x - 5.5, y], [x + 5.5, y], [x + 5.5, y + 15], [x, y + 20], [x - 5.5, y + 15]]
      : [[x - 5.5, y], [x + 5.5, y], [x + 5.5, y - 15], [x, y - 20], [x - 5.5, y - 15]];
    ch.push({type:'polygon', shape:{points:pts}, style:{fill:'#111111', stroke:'#777', lineWidth:0.6}});
    ch.push({type:'text', style:{x, y:t === 'V' ? y + 8 : y - 7.5, text:t, fill:'#e8e8e8', font:'bold 11px ' + UI, align:'center', verticalAlign:'middle'}});
  });
  return {type:'group', children:ch};
}, 0, 8, false);

const seriesCciUpper = oneShot('cciUpper', (p, api) => ({
  type:'group', children: bands(api, cci.length, cci, () => 100, '#9bf2ff', null)
}), 1, 2, true);
const seriesCciLower = oneShot('cciLower', (p, api) => ({
  type:'group', children: bands(api, cci.length, cci, () => -100, null, '#fed998')
}), 1, 2, true);

const levelColor = ['#17a5a5', '#22ccdd', '#22ccdd', '#2a9080', '#1fa8a0'];
const levelTag = ['#14948f', '#14d4f5', '#14d4f5', '#1f9088', '#14a098'];
const levelDash = ['solid', [6, 5], [6, 5], [6, 5], [6, 5]];
const priceLevelLines = priceLevels.map((v, k) => ({
  yAxis: v,
  lineStyle:{color:levelColor[k], type:levelDash[k], width:1.2},
  label:{show:true, position:'end', distance:2, formatter:v.toFixed(6).replace('.', ','), color:'#06323a',
    backgroundColor:levelTag[k], borderRadius:3, padding:[1.5, 1.5, 1.5, 1.5], fontSize:10, fontFamily:UI}
}));
const twistColor = ['#8a00ff', '#0a5cff'];
const twistLines = () => twistIndex.map((x, k) => ({xAxis:x, lineStyle:{color:twistColor[k], width:1.3, type:'solid'}, label:{show:false}}));

const lineSeries = (name, data, color, width, z, extra) => Object.assign({
  type:'line', name, data, xAxisIndex:0, yAxisIndex:0, z, symbol:'none', showSymbol:false, silent:true,
  lineStyle:{color, width}
}, extra || {});

const priceFmt = v => Number(v).toFixed(6).replace('.', ',');

const option = {
  animation:false,
  backgroundColor:'#ffffff',
  graphic:{elements:gfx},
  grid:[
    {left:6, top:68, width:2464.41, height:860, containLabel:false, outerBoundsMode:'none'},
    {left:6, top:932, width:2464.41, height:286, containLabel:false, outerBoundsMode:'none'}
  ],
  xAxis:[
    {type:'category', gridIndex:0, data:categories, position:'top', boundaryGap:true,
     axisLine:{show:false}, axisTick:{show:false}, splitLine:{show:false},
     axisLabel:{show:true, margin:1, fontSize:10, fontFamily:UI, color:'#222', padding:[0, 0, 0, 6],
       interval:(idx) => dateTickIndex.includes(idx),
       formatter:(v, idx) => { const k = dateTickIndex.indexOf(idx); return k >= 0 ? dateTickLabel[k] : ''; }}},
    {type:'category', gridIndex:1, data:categories, boundaryGap:true, show:false}
  ],
  yAxis:[
    {type:'value', gridIndex:0, position:'right', min:1.73776, max:1.88401, scale:true,
     axisLine:{show:false}, axisTick:{show:false}, splitLine:{show:false},
     axisLabel:{show:true, margin:6, customValues:priceTicks, formatter:priceFmt, fontSize:10, fontFamily:UI, color:'#333'}},
    {type:'value', gridIndex:1, position:'right', min:-284.8, max:251,
     axisLine:{show:false}, axisTick:{show:false}, splitLine:{show:false},
     axisLabel:{show:true, margin:5, customValues:cciTicks, formatter:priceFmt, fontSize:10, fontFamily:UI, color:'#333'}}
  ],
  series:[
    {type:'candlestick', name:'EUR/NZD', data:candles, xAxisIndex:0, yAxisIndex:0, z:2, barWidth:8, silent:true,
     itemStyle:{color:'#00ae00', color0:'#ff0000', borderColor:'#00ae00', borderColor0:'#ff0000', borderWidth:1}},
    seriesZones,
    seriesCloud,
    seriesRings,
    lineSeries('Senkou A', senkouA, '#f5a10e', 1.7, 5),
    lineSeries('Senkou B', senkouB, '#a0592b', 1.7, 5),
    lineSeries('Kijun', kijun, '#1a66ff', 1.3, 6, {markLine:{silent:true, precision:6, symbol:['none','none'], data:priceLevelLines, z:6}}),
    lineSeries('Tenkan', tenkan, '#ff2626', 1.2, 6),
    lineSeries('Chikou', chikou, '#2a2a2a', 1.1, 6, {markLine:{silent:true, precision:6, symbol:['none','none'], data:twistLines(), z:7}}),
    seriesNotes,
    seriesCciUpper,
    seriesCciLower,
    {type:'line', name:'CCI', data:cci, xAxisIndex:1, yAxisIndex:1, z:4, symbol:'none', showSymbol:false, silent:true,
     lineStyle:{color:'#111111', width:1.3},
     markLine:{silent:true, precision:6, symbol:['none','none'], z:3, data:[
       {yAxis:cciLevels[0], lineStyle:{color:'#22b8e8', type:'solid', width:1.5}, label:{show:false}},
       {yAxis:cciLevels[1], lineStyle:{color:'#000000', type:[4,4], width:1.4}, label:{show:false}},
       {yAxis:cciLevels[2], lineStyle:{color:'#a85a22', type:'solid', width:1.5}, label:{show:false}}
     ].concat(twistLines())}}
  ]
};
const chart = echarts.init(document.getElementById('c'), null, {renderer:'canvas'});
chart.setOption(option);
</script></body></html>
